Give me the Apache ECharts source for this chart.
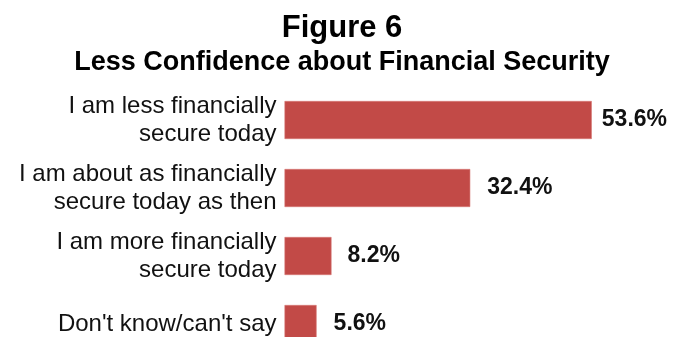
<!DOCTYPE html>
<html>
<head>
<meta charset="utf-8">
<script src="https://cdn.jsdelivr.net/npm/echarts@6/dist/echarts.min.js"></script>
<style>
  html, body { margin: 0; padding: 0; background: #fff; overflow: hidden; }
  /* the last bar runs past the bottom edge of the view, so the canvas is taller */
  #chart { width: 675px; height: 380px; }
</style>
</head>
<body>
<div id="chart"></div>
<script>
// Survey responses: change in financial security
const categories = [
  'I am less financially\nsecure today',
  'I am about as financially\nsecure today as then',
  'I am more financially\nsecure today',
  "Don't know/can't say"
];
const shares = [53.6, 32.4, 8.2, 5.6];

const titleText = 'Figure 6';
const subtitleText = 'Less Confidence about Financial Security';

const FONT = '"Liberation Sans", Arial, Helvetica, sans-serif';
const labelGap = [10, 17, 16, 17];

const chart = echarts.init(document.getElementById('chart'), null, { renderer: 'canvas' });

chart.setOption({
  animation: false,
  backgroundColor: '#ffffff',
  title: [
    {
      text: titleText,
      left: 337, top: 8, textAlign: 'center',
      textStyle: { fontFamily: FONT, fontSize: 31, fontWeight: 'bold', color: '#000' }
    },
    {
      text: subtitleText,
      left: 337, top: 44, textAlign: 'center',
      textStyle: { fontFamily: FONT, fontSize: 27, fontWeight: 'bold', color: '#000' }
    }
  ],
  grid: { left: 284.5, top: 86, width: 344, height: 272, containLabel: false },
  xAxis: {
    type: 'value', min: 0, max: 60,
    show: false
  },
  yAxis: {
    type: 'category',
    data: categories,
    inverse: true,
    axisLine: { show: false },
    axisTick: { show: false },
    splitLine: { show: false },
    axisLabel: {
      margin: 8,
      fontFamily: FONT, fontSize: 24, lineHeight: 28,
      color: '#111', align: 'right'
    }
  },
  series: [{
    type: 'bar',
    data: shares.map((v, i) => ({
      value: v,
      label: { distance: labelGap[i] }
    })),
    barWidth: 38,
    itemStyle: { color: '#C24A47', borderColor: '#D77A77', borderWidth: 0.6 },
    label: {
      show: true,
      position: 'right',
      formatter: p => p.value.toFixed(1) + '%',
      fontFamily: FONT, fontSize: 23, fontWeight: 'bold', color: '#111'
    }
  }]
});
</script>
</body>
</html>
